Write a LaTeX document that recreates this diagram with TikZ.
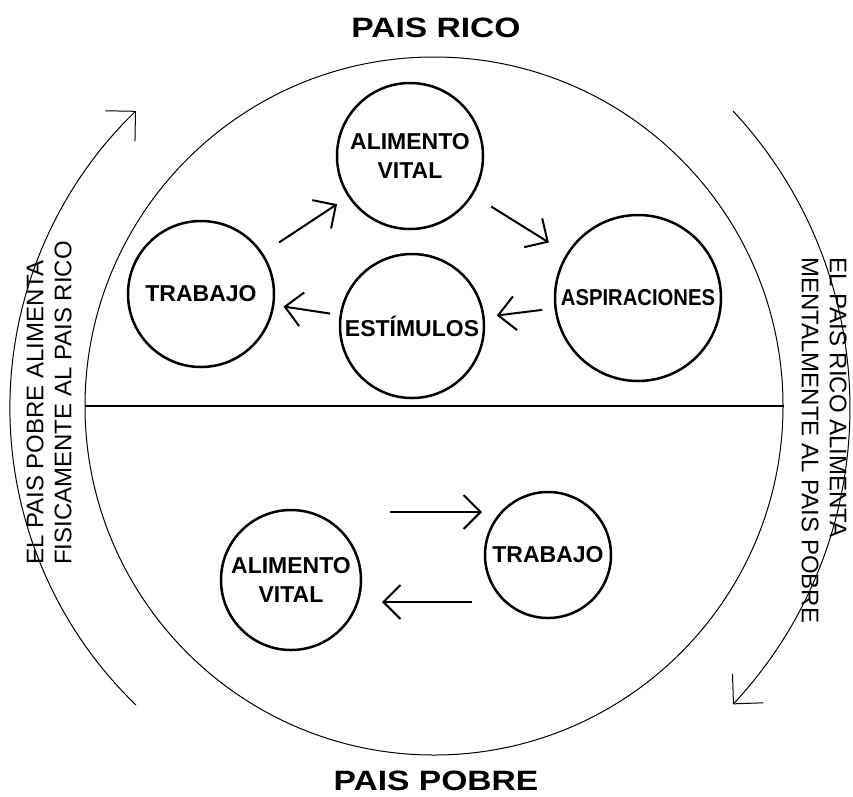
\documentclass[tikz,border=0pt]{standalone}
\usepackage{fontspec}
\setmainfont{Liberation Sans}
\usetikzlibrary{arrows.meta,calc}
\newcommand\lblfont{\fontsize{23}{29}\selectfont\bfseries}
\newcommand\sidefont{\fontsize{24}{28}\selectfont}
\newcommand\titlefont{\fontsize{28}{32}\selectfont\bfseries}
\tikzset{bubble/.style={circle,draw,line width=2.5pt,inner sep=0pt,font=\lblfont,align=center},
  flow/.style={-{Straight Barb[angle=90:24pt]},line width=2pt},
  outer/.style={-{Straight Barb[angle=90:30pt]},line width=1pt},
  sidetext/.style={inner sep=0pt,font=\sidefont,align=left,anchor=west}}
\begin{document}
\begin{tikzpicture}[x=1pt,y=-1pt]
\useasboundingbox (0,0) rectangle (853,796);
\node[font=\titlefont] (rico) at (436,28) {\scalebox{1.2}[1]{PAIS RICO}};
\node[font=\titlefont] (pobre) at (436,781) {\scalebox{1.2}[1]{PAIS POBRE}};
\node[circle,draw,line width=1pt,minimum size=698pt,inner sep=0pt] (mundo) at (434,406) {};
\draw[line width=1.2pt] (mundo.west) -- (mundo.east);
\node[bubble,minimum size=146pt] (alim1) at (410,156) {ALIMENTO\\VITAL};
\node[bubble,minimum size=146pt] (trab1) at (201,294) {TRABAJO};
\node[bubble,minimum size=144pt] (estim) at (412,326) {ESTÍMULOS};
\node[bubble,minimum size=166pt] (aspir) at (638,298) {\scalebox{.88}[1]{ASPIRACIONES}};
\node[bubble,minimum size=140pt] (alim2) at (291,580) {ALIMENTO\\VITAL};
\node[bubble,minimum size=126pt] (trab2) at (548,555) {TRABAJO};
\draw[flow] ($(trab1)!.374!(alim1)$) -- ($(trab1)!.651!(alim1)$);
\draw[flow] ($(alim1)!.356!(aspir)$) -- ($(alim1)!.609!(aspir)$);
\draw[flow] ($(aspir)!.424!(estim)$) -- ($(aspir)!.625!(estim)$);
\draw[flow] ($(estim)!.388!(trab1)$) -- ($(estim)!.609!(trab1)$);
\draw[flow] ($(alim2)+(99,-68)$) -- ($(trab2)+(-66,-43)$);
\draw[flow] ($(trab2)+(-76,47)$) -- ($(alim2)+(91,22)$);
\node[sidetext,rotate=90] (fisica) at (49,565) {EL PAIS POBRE ALIMENTA\\FISICAMENTE AL PAIS RICO};
\node[sidetext,rotate=-90] (mental) at (824,257) {EL PAIS RICO ALIMENTA\\MENTALMENTE AL PAIS POBRE};
\coordinate (izq) at (136,705);\coordinate (der) at (733,111);
\draw[outer] (izq) arc[start angle=134,end angle=226,radius=413];
\draw[outer] (der) arc[start angle=-43,end angle=43,radius=435];
\end{tikzpicture}
\end{document}
